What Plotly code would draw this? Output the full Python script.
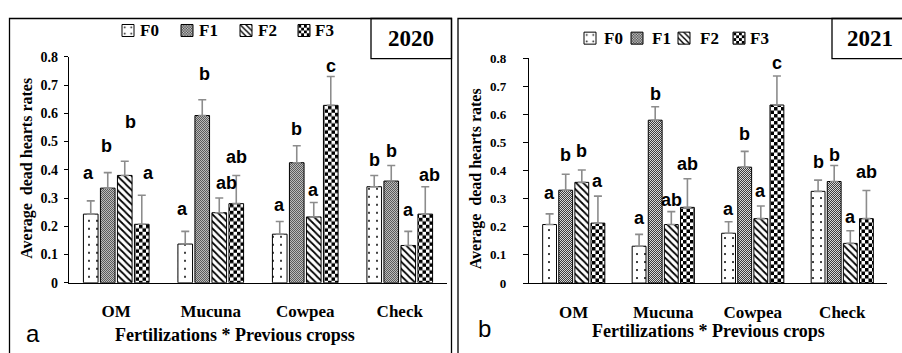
import plotly.graph_objects as go

# ---- data -------------------------------------------------------------
crops = ["OM", "Mucuna", "Cowpea", "Check"]
fert = ["F0", "F1", "F2", "F3"]

# mean dead-heart rates per fertilization level and previous crop
mean_2020 = {
    "F0": [0.243, 0.137, 0.172, 0.340],
    "F1": [0.335, 0.592, 0.425, 0.360],
    "F2": [0.380, 0.248, 0.233, 0.132],
    "F3": [0.207, 0.280, 0.628, 0.243],
}
err_2020 = {
    "F0": [0.047, 0.045, 0.045, 0.040],
    "F1": [0.055, 0.056, 0.060, 0.055],
    "F2": [0.050, 0.052, 0.051, 0.050],
    "F3": [0.103, 0.100, 0.102, 0.097],
}
letters_2020 = {
    "F0": ["a", "a", "a", "b"],
    "F1": ["b", "b", "b", "b"],
    "F2": ["b", "ab", "a", "a"],
    "F3": ["a", "ab", "c", "ab"],
}

mean_2021 = {
    "F0": [0.208, 0.131, 0.177, 0.326],
    "F1": [0.330, 0.579, 0.412, 0.361],
    "F2": [0.358, 0.208, 0.229, 0.141],
    "F3": [0.213, 0.269, 0.633, 0.229],
}
err_2021 = {
    "F0": [0.038, 0.042, 0.041, 0.040],
    "F1": [0.057, 0.048, 0.056, 0.057],
    "F2": [0.044, 0.046, 0.045, 0.045],
    "F3": [0.096, 0.102, 0.103, 0.100],
}
letters_2021 = {
    "F0": ["a", "a", "a", "b"],
    "F1": ["b", "b", "b", "b"],
    "F2": ["b", "ab", "a", "a"],
    "F3": ["a", "ab", "c", "ab"],
}

# heights at which the significance letters sit (axis units)
letter_y_2020 = {
    "F0": [0.389, 0.262, 0.274, 0.434],
    "F1": [0.485, 0.738, 0.546, 0.468],
    "F2": [0.569, 0.352, 0.330, 0.259],
    "F3": [0.389, 0.445, 0.768, 0.380],
}
letter_y_2021 = {
    "F0": [0.319, 0.233, 0.264, 0.429],
    "F1": [0.454, 0.673, 0.530, 0.454],
    "F2": [0.471, 0.295, 0.326, 0.236],
    "F3": [0.363, 0.422, 0.783, 0.394],
}
# small horizontal nudges (px) for a few letters in the 2020 panel
letter_dx_2020 = {"F0": [-2, -3, 0, 0], "F1": [-1, 2, 0, 0], "F2": [6, 7, 0, 0], "F3": [7, 0, 0, 4]}
letter_dx_2021 = {f: [0, 0, 0, 0] for f in fert}

# ---- styling ----------------------------------------------------------
W, H = 902, 353
SERIF = "Liberation Serif, Times New Roman, serif"
SANS = "Liberation Sans, Arial, sans-serif"

CHECK = "M0,0H3.5V3.5H0ZM3.5,3.5H7V7H3.5Z"
FINE = "M0,0H1V1H0ZM1,1H2V2H1Z"
patterns = {
    "F0": dict(shape=".", fgcolor="black", bgcolor="white", size=8, solidity=0.05, fgopacity=1),
    "F1": dict(shape="", path=FINE, fgcolor="#383838", bgcolor="#dedede", size=2, fgopacity=1),
    "F2": dict(shape="\\", fgcolor="black", bgcolor="white", size=5, solidity=0.35, fgopacity=1),
    "F3": dict(shape="", path=CHECK, fgcolor="black", bgcolor="white", size=7, fgopacity=1),
}

SLOT = 0.18  # spacing between bar centres within a group (category units)


def px(x):
    return x / W


def py(y):
    return 1 - y / H


# key layout: one single-swatch legend per level, label written beside it
key_swatch_x_2020 = [108, 167, 226, 284]
key_text_x_2020 = [138, 197, 256, 313]
key_swatch_x_2021 = [570, 617, 664, 719]
key_text_x_2021 = [602, 650, 698, 748]

fig = go.Figure()

panels = [
    dict(xa="x", ya="y", mean=mean_2020, err=err_2020, let=letters_2020,
         ly=letter_y_2020, dx=letter_dx_2020, kx=key_swatch_x_2020,
         tx=key_text_x_2020, ky=25, first=1),
    dict(xa="x2", ya="y2", mean=mean_2021, err=err_2021, let=letters_2021,
         ly=letter_y_2021, dx=letter_dx_2021, kx=key_swatch_x_2021,
         tx=key_text_x_2021, ky=33, first=5),
]

legend_layout = {}
for p in panels:
    for j, f in enumerate(fert):
        k = p["first"] + j
        lname = "legend" if k == 1 else f"legend{k}"
        legend_layout[lname] = dict(
            orientation="h", x=px(p["kx"][j]), y=py(p["ky"]),
            xanchor="left", yanchor="middle", bgcolor="rgba(0,0,0,0)",
            font=dict(family=SERIF, size=17, color="black", weight="bold"),
        )
        fig.add_trace(go.Bar(
            x=crops, y=p["mean"][f], name="", hovertext=f,
            xaxis=p["xa"], yaxis=p["ya"], legend=lname,
            marker=dict(color="white", pattern=patterns[f],
                        line=dict(color="black", width=1)),
            error_y=dict(type="data", array=p["err"][f],
                         arrayminus=[0] * len(crops), symmetric=False,
                         color="#8c8c8c", thickness=1.6, width=4),
        ))
        fig.add_annotation(
            text=f, x=px(p["tx"][j]), y=py(p["ky"]), xref="paper", yref="paper",
            xanchor="left", yanchor="middle", showarrow=False,
            font=dict(family=SERIF, size=17, color="black", weight="bold"),
        )
        for i in range(len(crops)):
            fig.add_annotation(
                x=i + (j - 1.5) * SLOT, y=p["ly"][f][i],
                xref=p["xa"], yref=p["ya"], text=p["let"][f][i],
                showarrow=False, xshift=p["dx"][f][i],
                font=dict(family=SANS, size=18, color="black", weight="bold"),
            )

axis_common = dict(showgrid=False, zeroline=False, showline=True,
                   linecolor="black", linewidth=1.3)
xfont = dict(family=SERIF, size=17, color="black", weight="bold")

fig.update_layout(
    width=W, height=H,
    margin=dict(l=0, r=0, t=0, b=0),
    paper_bgcolor="white", plot_bgcolor="white",
    barmode="group", bargap=0.28, bargroupgap=0.14,
    xaxis=dict(domain=[px(69), px(447)], anchor="y", ticks="",
               ticklabelstandoff=13, tickfont=xfont, **axis_common),
    yaxis=dict(domain=[py(288), py(52)], anchor="x", range=[0, 0.8], dtick=0.1,
               ticks="outside", ticklen=4, tickcolor="black", tickwidth=1,
               ticklabelstandoff=3,
               tickfont=dict(family=SERIF, size=14, color="black", weight="bold"),
               **axis_common),
    xaxis2=dict(domain=[px(529), px(887)], anchor="y2", ticks="",
                ticklabelstandoff=13, tickfont=xfont, **axis_common),
    yaxis2=dict(domain=[py(288.3), py(53.3)], anchor="x2", range=[0, 0.8], dtick=0.1,
                ticks="outside", ticklen=5, tickcolor="black", tickwidth=1,
                ticklabelstandoff=14,
                tickfont=dict(family=SERIF, size=13, color="black", weight="bold"),
                **axis_common),
    showlegend=True,
    **legend_layout,
)

# panel frames and year boxes
frame = dict(type="rect", xref="paper", yref="paper",
             line=dict(color="black", width=1.3), fillcolor="rgba(0,0,0,0)")
fig.add_shape(x0=px(9.5), x1=px(451.5), y0=-0.1, y1=py(12), **frame)
fig.add_shape(x0=px(458), x1=1.1, y0=-0.1, y1=py(12), **frame)
fig.add_shape(x0=px(371), x1=px(451.5), y0=py(54), y1=py(12), **frame)
fig.add_shape(x0=px(832), x1=1.1, y0=py(54), y1=py(12), **frame)

text_items = [
    dict(text="2020", x=px(411), y=py(33), size=23, family=SERIF, bold=True, angle=0),
    dict(text="2021", x=px(870), y=py(33), size=23, family=SERIF, bold=True, angle=0),
    dict(text="Average  dead hearts rates", x=px(27), y=py(169), size=16, family=SERIF, bold=True, angle=-90),
    dict(text="Average  dead hearts rates", x=px(476), y=py(180), size=16, family=SERIF, bold=True, angle=-90),
    dict(text="Fertilizations * Previous cropss", x=px(235), y=py(343), size=18, family=SERIF, bold=True, angle=0),
    dict(text="Fertilizations * Previous crops", x=px(708), y=py(338), size=18, family=SERIF, bold=True, angle=0),
    dict(text="a", x=px(33), y=py(341), size=24, family=SANS, bold=False, angle=0),
    dict(text="b", x=px(484), y=py(336), size=24, family=SANS, bold=False, angle=0),
]
for t in text_items:
    fig.add_annotation(
        text=t["text"], x=t["x"], y=t["y"], xref="paper", yref="paper",
        showarrow=False, textangle=t["angle"], xanchor="center", yanchor="middle",
        font=dict(family=t["family"], size=t["size"], color="black",
                  weight="bold" if t["bold"] else "normal"),
    )

fig.write_html("out.html")
